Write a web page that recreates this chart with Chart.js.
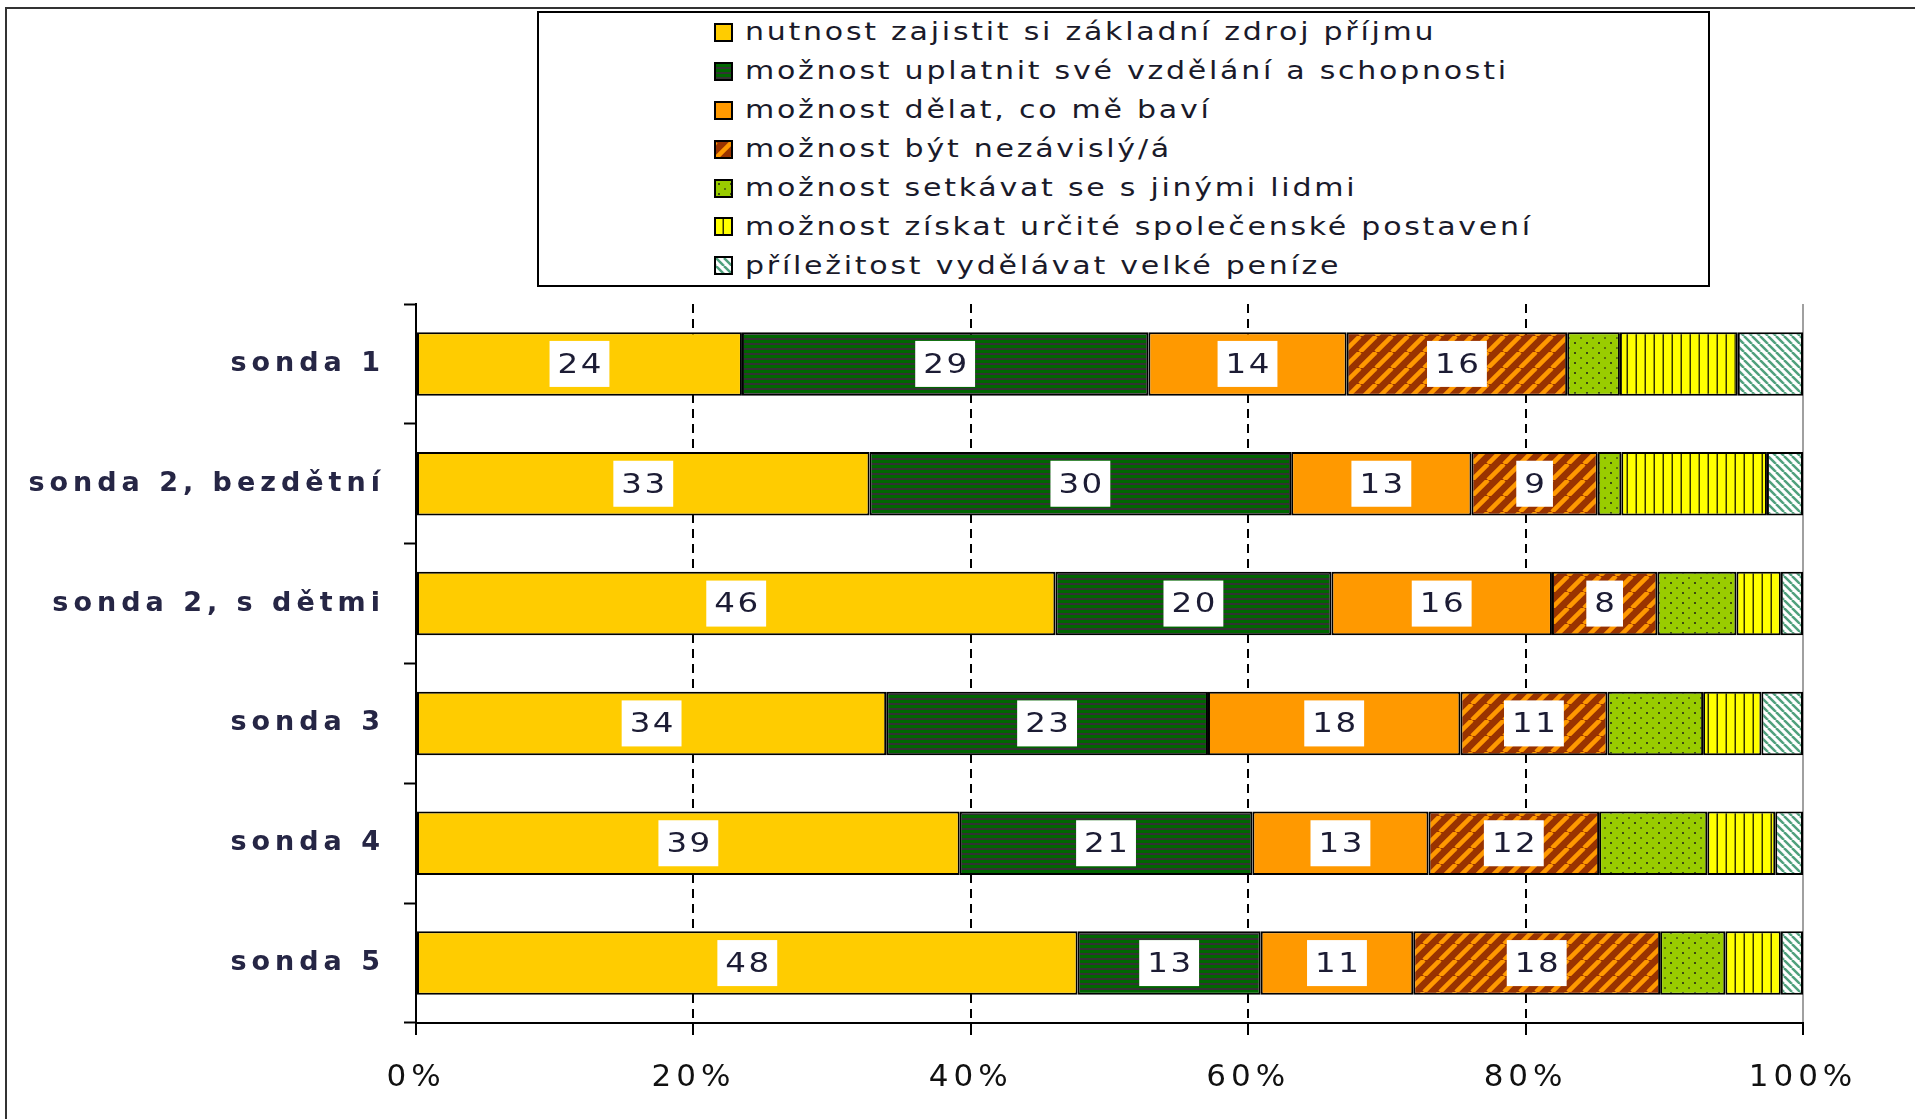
<!DOCTYPE html>
<html lang="cs">
<head>
<meta charset="utf-8">
<title>Důvody k práci – sondy</title>
<script src="https://cdn.jsdelivr.net/npm/chart.js@4.4.0/dist/chart.umd.min.js"></script>
<style>
  html, body { margin: 0; padding: 0; background: #fff; }
  #wrap { position: relative; width: 1915px; height: 1119px; overflow: hidden; }
  #graf { position: absolute; left: 0; top: 0; }
  #ramecek { position: absolute; left: 5px; top: 7px; width: 1915px; height: 1119px;
    border-left: 2px solid #333; border-top: 2px solid #333; }
  #legenda { position: absolute; left: 537px; top: 11px; width: 1169px; height: 272px;
    border: 2px solid #000; background: #fff;
    font-family: "DejaVu Sans", sans-serif; font-size: 24px; letter-spacing: 2.2px; color: #1a1a2a; }
  .polozka { display: flex; align-items: center; height: 38.9px; padding-left: 175px; white-space: nowrap; }
  .polozka canvas { width: 15px; height: 15px; border: 2px solid #000; margin-right: 12px; flex: none; }
  .polozka span { display: inline-block; transform: scaleX(1.25); transform-origin: left center; }
</style>
</head>
<body>
<div id="wrap">
  <canvas id="graf" width="1915" height="1119"></canvas>
  <div id="ramecek"></div>
  <div id="legenda"></div>
</div>
<script>
const kategorie = ["sonda 1", "sonda 2, bezdětní", "sonda 2, s dětmi", "sonda 3", "sonda 4", "sonda 5"];

// podíly v %
const prijem    = [23.5, 32.7, 46.1, 33.9, 39.2, 47.7];
const vzdelani  = [29.3, 30.4, 19.9, 23.2, 21.1, 13.2];
const bavi      = [14.3, 13.0, 15.9, 18.2, 12.7, 11.0];
const nezavisly = [15.9,  9.1,  7.6, 10.6, 12.3, 17.8];
const lide      = [ 3.8,  1.7,  5.7,  6.9,  7.8,  4.7];
const postaveni = [ 8.5, 10.5,  3.2,  4.2,  4.9,  4.0];
const penize    = [ 4.7,  2.6,  1.6,  3.0,  2.0,  1.6];

const nazvy = [
  "nutnost zajistit si základní zdroj příjmu",
  "možnost uplatnit své vzdělání a schopnosti",
  "možnost dělat, co mě baví",
  "možnost být nezávislý/á",
  "možnost setkávat se s jinými lidmi",
  "možnost získat určité společenské postavení",
  "příležitost vydělávat velké peníze"
];
const vzory = ["zluta", "zelenePruhy", "oranzova", "sikmeHnede", "tecky", "svislePruhy", "sikmeTyrkys"];
const popisky = [true, true, true, true, false, false, false]; // které řady mají čísla

const osaX = [0, 20, 40, 60, 80, 100];

// kreslení vzorů
function vzorDlazdice(kind) {
  const c = document.createElement("canvas");
  const g = c.getContext("2d");
  if (kind === "zluta") {
    c.width = c.height = 4; g.fillStyle = "#ffcc00"; g.fillRect(0, 0, 4, 4);
  } else if (kind === "oranzova") {
    c.width = c.height = 4; g.fillStyle = "#ff9900"; g.fillRect(0, 0, 4, 4);
  } else if (kind === "zelenePruhy") {
    c.width = 4; c.height = 5;
    g.fillStyle = "#006600"; g.fillRect(0, 0, 4, 5);
    g.fillStyle = "#333333"; g.fillRect(0, 3, 4, 2);
  } else if (kind === "sikmeHnede") {
    c.width = c.height = 16;
    g.fillStyle = "#993300"; g.fillRect(0, 0, 16, 16);
    g.strokeStyle = "#ff9900"; g.lineWidth = 4.5;
    for (const o of [-16, 0, 16]) { g.beginPath(); g.moveTo(o, 16); g.lineTo(o + 16, 0); g.stroke(); }
  } else if (kind === "tecky") {
    c.width = 12; c.height = 10;
    g.fillStyle = "#99cc00"; g.fillRect(0, 0, 12, 10);
    g.fillStyle = "#3d4d10"; g.fillRect(2, 2, 2, 2);
    g.fillStyle = "#5a7010"; g.fillRect(8, 7, 2, 2);
  } else if (kind === "svislePruhy") {
    c.width = 9; c.height = 4;
    g.fillStyle = "#ffff00"; g.fillRect(0, 0, 9, 4);
    g.fillStyle = "#999900"; g.fillRect(6, 0, 1, 4);
    g.fillStyle = "#333300"; g.fillRect(7, 0, 1, 4);
  } else if (kind === "sikmeTyrkys") {
    c.width = c.height = 8;
    g.fillStyle = "#ffffff"; g.fillRect(0, 0, 8, 8);
    g.strokeStyle = "#4fa07c"; g.lineWidth = 2.5;
    for (const o of [-8, 0, 8]) { g.beginPath(); g.moveTo(o, 0); g.lineTo(o + 8, 8); g.stroke(); }
  }
  return c;
}

const ctx = document.getElementById("graf").getContext("2d");
const vypln = vzory.map((k) => ctx.createPattern(vzorDlazdice(k), "repeat"));
const rady = [prijem, vzdelani, bavi, nezavisly, lide, postaveni, penize];

// čísla v bílých rámečcích (písmo roztažené do šířky jako v originálu)
const cislaPlugin = {
  id: "cisla",
  afterDatasetsDraw(chart) {
    const c = chart.ctx;
    const roztah = 1.25;
    c.save();
    c.font = '26px "DejaVu Sans"';
    c.letterSpacing = "2px";
    c.textAlign = "center";
    c.textBaseline = "middle";
    chart.data.datasets.forEach((ds, di) => {
      if (!popisky[di]) return;
      chart.getDatasetMeta(di).data.forEach((bar, i) => {
        const txt = String(Math.round(ds.data[i]));
        const p = bar.getCenterPoint();
        const w = (c.measureText(txt).width - 2) * roztah + 16;
        c.fillStyle = "#fff";
        c.fillRect(p.x - w / 2, p.y - 23, w, 46);
        c.fillStyle = "#1c1c34";
        c.save();
        c.translate(p.x, p.y + 2);
        c.scale(roztah, 1);
        c.fillText(txt, 1, 0);
        c.restore();
      });
    });
    c.restore();
  }
};

// proložené písmo jako v originálu
const rozpalPlugin = {
  id: "rozpal",
  beforeDraw(chart) { chart.ctx.letterSpacing = "5px"; }
};

const graf = new Chart(ctx, {
  type: "bar",
  data: {
    labels: kategorie,
    datasets: rady.map((d, i) => ({
      label: nazvy[i],
      data: d,
      backgroundColor: vypln[i],
      borderColor: "#000",
      borderWidth: 2,
      borderSkipped: false,
      categoryPercentage: 0.53,
      barPercentage: 1
    }))
  },
  options: {
    responsive: false,
    animation: false,
    indexAxis: "y",
    layout: { padding: { top: 304, right: 112, left: 0, bottom: 0 } },
    plugins: { legend: { display: false }, tooltip: { enabled: false } },
    scales: {
      x: {
        stacked: true,
        min: 0,
        max: 100,
        afterBuildTicks: (s) => { s.ticks = osaX.map((v) => ({ value: v })); },
        ticks: {
          callback: (v) => v + "%",
          font: { family: "DejaVu Sans", size: 31 },
          color: "#111",
          padding: 24,
          maxRotation: 0
        },
        grid: {
          color: (c) => c.index === 0 ? "rgba(0,0,0,0)" : (c.index === 5 ? "#a0a0a0" : "#000"),
          lineWidth: 2,
          tickLength: 12,
          tickColor: "#000",
          tickWidth: 2
        },
        border: {
          color: "#000",
          width: 2,
          dash: (c) => (c.index > 0 && c.index < 5) ? [9, 6] : []
        },
        afterFit: (s) => { s.height = 96; }
      },
      y: {
        stacked: true,
        ticks: {
          font: { family: "DejaVu Sans", size: 27, weight: "bold" },
          color: "#262645",
          padding: 19
        },
        grid: {
          offset: true,
          drawOnChartArea: false,
          tickLength: 12,
          tickColor: "#000",
          tickWidth: 2
        },
        border: { color: "#000", width: 2 },
        afterFit: (s) => { s.width = 416; }
      }
    }
  },
  plugins: [rozpalPlugin, cislaPlugin]
});

// legenda
const leg = document.getElementById("legenda");
graf.data.datasets.forEach((ds, i) => {
  const row = document.createElement("div");
  row.className = "polozka";
  const sw = document.createElement("canvas");
  sw.width = 15; sw.height = 15;
  const g = sw.getContext("2d");
  g.fillStyle = g.createPattern(vzorDlazdice(vzory[i]), "repeat");
  g.fillRect(0, 0, 15, 15);
  const t = document.createElement("span");
  t.textContent = ds.label;
  row.appendChild(sw);
  row.appendChild(t);
  leg.appendChild(row);
});
</script>
</body>
</html>
